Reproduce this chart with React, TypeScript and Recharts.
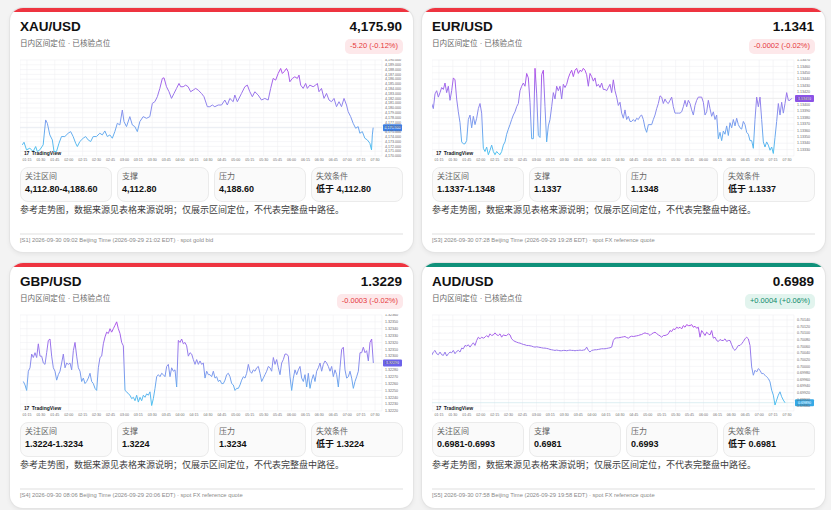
import { LineChart, Line, XAxis, YAxis, CartesianGrid, ReferenceLine } from 'recharts'

const FONT = '"Liberation Sans", Arial, "Noto Sans CJK SC", sans-serif'

// intraday session clock labels (x axis)
const sessionLabels = [
  '01:15', '01:30', '01:45', '02:00', '02:15', '02:30', '02:45', '03:00', '03:15', '03:30',
  '03:45', '04:00', '04:15', '04:30', '04:45', '05:00', '05:15', '05:30', '05:45', '06:00',
  '06:15', '06:30', '06:45', '07:00', '07:15', '07:30',
]

// XAU/USD: minutes from chart start, spot price
const xauMinutes = [
  0, 2, 5, 9, 13, 16, 18, 21, 25, 28,
  30, 33, 36, 38, 41, 44, 47, 51, 55, 58,
  61, 64, 66, 69, 73, 76, 79, 82, 85, 89,
  93, 96, 99, 102, 105, 108, 111, 114, 117, 120,
  122, 125, 129, 132, 135, 138, 141, 145, 149, 153,
  156, 159, 162, 165, 168, 170, 173, 176, 179, 182,
  185, 188, 190, 193, 196, 199, 202, 205, 208, 211,
  215, 218, 222, 225, 228, 231, 235, 239, 243, 246,
  249, 253, 255, 258, 263, 267, 270, 273, 276, 279,
  283, 287, 291, 295, 298, 301, 304, 307, 310, 312,
  314, 317, 319, 321, 324, 327, 330, 332, 334, 337,
  340, 342, 345, 349, 352, 354, 356, 359, 362, 365,
  368, 371, 374, 377, 380, 383, 386, 389, 391, 394,
  397, 400, 403, 405, 408, 411, 414, 417, 419, 420,
  421,
]
const xauPrices = [
  4172.32, 4172.87, 4171.28, 4171.62, 4170.93, 4171.97, 4170.93, 4171.28, 4172.32, 4177.51,
  4176.81, 4174.39, 4173.35, 4170.93, 4170.93, 4172.66, 4174.05, 4174.05, 4174.74, 4175.08,
  4174.05, 4172.66, 4171.97, 4173.01, 4173.7, 4174.05, 4173.35, 4173.01, 4174.05, 4174.05,
  4174.74, 4174.39, 4175.22, 4174.05, 4174.39, 4173.7, 4175.08, 4176.81, 4176.47, 4179.58,
  4177.16, 4176.12, 4178.2, 4176.47, 4176.12, 4175.08, 4177.16, 4178.2, 4177.85, 4178.2,
  4180.97, 4181.31, 4182.35, 4184.08, 4186.16, 4186.29, 4184.43, 4183.39, 4182.0, 4183.04,
  4184.08, 4185.12, 4184.43, 4184.43, 4184.77, 4184.43, 4183.39, 4183.73, 4184.08, 4183.73,
  4183.04, 4182.35, 4180.27, 4180.27, 4180.62, 4180.27, 4180.62, 4180.62, 4181.66, 4180.62,
  4182.0, 4181.31, 4182.7, 4181.31, 4183.04, 4184.43, 4184.77, 4183.39, 4182.35, 4183.39,
  4182.7, 4181.66, 4182.0, 4181.66, 4184.08, 4186.16, 4185.81, 4187.19, 4188.23, 4187.19,
  4187.54, 4188.23, 4187.54, 4185.46, 4186.16, 4186.5, 4186.16, 4186.85, 4184.77, 4184.08,
  4185.12, 4184.08, 4184.77, 4184.43, 4184.77, 4185.12, 4183.39, 4184.08, 4182.0, 4183.04,
  4181.66, 4181.31, 4182.0, 4180.27, 4181.31, 4180.27, 4182.0, 4180.62, 4179.24, 4178.2,
  4176.81, 4175.78, 4176.12, 4174.74, 4175.08, 4173.7, 4173.35, 4172.66, 4171.28, 4174.39,
  4175.9,
]

// EUR/USD, one reading per bar
const eurPrices = [
  1.13402, 1.13394, 1.13417, 1.13422, 1.13412, 1.13419, 1.13427, 1.13424, 1.13434, 1.13419,
  1.13429, 1.13407, 1.13422, 1.13442, 1.13439, 1.13409, 1.13389, 1.13372, 1.13342, 1.13339,
  1.13339, 1.13344, 1.13377, 1.13384, 1.13364, 1.13382, 1.13369, 1.13379, 1.13394, 1.13402,
  1.13387, 1.13332, 1.13327, 1.13334, 1.13322, 1.13329, 1.13337, 1.13327, 1.13322, 1.13327,
  1.13324, 1.13322, 1.13327, 1.13337, 1.13342, 1.13354, 1.13362, 1.13369, 1.13377, 1.13384,
  1.13389, 1.13397, 1.13402, 1.13422, 1.13429, 1.13434, 1.13429, 1.13449, 1.13442, 1.13404,
  1.13347, 1.13347, 1.13457, 1.13417, 1.13352, 1.13349, 1.13447, 1.13454, 1.13397, 1.13342,
  1.13367, 1.13377, 1.13397, 1.13419, 1.13409, 1.13429, 1.13422, 1.13429, 1.13409, 1.13432,
  1.13427, 1.13432, 1.13442, 1.13449, 1.13454, 1.13444, 1.13454, 1.13457, 1.13449, 1.13454,
  1.13452, 1.13457, 1.13454, 1.13447, 1.13429, 1.13449, 1.13444, 1.13437, 1.13442, 1.13429,
  1.13432, 1.13427, 1.13434, 1.13424, 1.13424, 1.13422, 1.13427, 1.13432, 1.13419, 1.13439,
  1.13422, 1.13412, 1.13399, 1.13404, 1.13387, 1.13379, 1.13392, 1.13377, 1.13382, 1.13374,
  1.13374, 1.13377, 1.13374, 1.13379, 1.13377, 1.13382, 1.13384, 1.13377, 1.13364, 1.13357,
  1.13369, 1.13369, 1.13369, 1.13377, 1.13384, 1.13394, 1.13402, 1.13414, 1.13412, 1.13402,
  1.13409, 1.13404, 1.13402, 1.13407, 1.13412, 1.13397, 1.13387, 1.13387, 1.13387, 1.13387,
  1.13389, 1.13397, 1.13407, 1.13397, 1.13407, 1.13402, 1.13392, 1.13384, 1.13399, 1.13407,
  1.13412, 1.13412, 1.13412, 1.13404, 1.13384, 1.13389, 1.13407, 1.13394, 1.13382, 1.13389,
  1.13377, 1.13384, 1.13347, 1.13357, 1.13344, 1.13359, 1.13354, 1.13367, 1.13352, 1.13372,
  1.13364, 1.13377, 1.13367, 1.13379, 1.13369, 1.13364, 1.13362, 1.13374, 1.13369, 1.13357,
  1.13354, 1.13344, 1.13344, 1.13332, 1.13377, 1.13412, 1.13397, 1.13412, 1.13377, 1.13342,
  1.13334, 1.13342, 1.13337, 1.13329, 1.13334, 1.13324, 1.13349, 1.13374, 1.13402, 1.13384,
  1.13404, 1.13387, 1.13402, 1.13419, 1.13407, 1.13407, 1.1341,
]

// GBP/USD
const gbpPrices = [
  1.32263, 1.32258, 1.3225, 1.32278, 1.32283, 1.32303, 1.32298, 1.32305, 1.32298, 1.32318,
  1.323, 1.323, 1.3229, 1.32288, 1.32305, 1.32323, 1.32325, 1.323, 1.32283, 1.32278,
  1.32265, 1.32273, 1.32278, 1.3229, 1.32303, 1.32283, 1.3229, 1.32288, 1.3229, 1.3228,
  1.32308, 1.3232, 1.323, 1.32283, 1.32278, 1.32263, 1.32268, 1.3226, 1.32263, 1.32268,
  1.32275, 1.32263, 1.3226, 1.32253, 1.3225, 1.32283, 1.32298, 1.323, 1.32318, 1.32328,
  1.32335, 1.32333, 1.3234, 1.32335, 1.3234, 1.32345, 1.3235, 1.3234, 1.32333, 1.3232,
  1.32315, 1.3225, 1.32248, 1.32245, 1.32243, 1.32238, 1.3224, 1.32235, 1.32243, 1.32233,
  1.3224, 1.32235, 1.32243, 1.3224, 1.32245, 1.32243, 1.32248, 1.32228, 1.32238, 1.32253,
  1.3227, 1.32273, 1.3227, 1.32275, 1.32273, 1.3227, 1.32285, 1.32288, 1.3227, 1.32283,
  1.32278, 1.3228, 1.32255, 1.32323, 1.3232, 1.32325, 1.32318, 1.3232, 1.32315, 1.323,
  1.32305, 1.32303, 1.32295, 1.32288, 1.32295, 1.32288, 1.32293, 1.32288, 1.3229, 1.32268,
  1.32278, 1.32273, 1.32273, 1.3227, 1.32278, 1.32268, 1.3227, 1.32263, 1.32265, 1.3226,
  1.3226, 1.32265, 1.32273, 1.32275, 1.3227, 1.3226, 1.32258, 1.3225, 1.32253, 1.32253,
  1.32258, 1.32265, 1.3227, 1.32268, 1.32275, 1.32288, 1.32278, 1.32275, 1.3228, 1.32278,
  1.32283, 1.32285, 1.32275, 1.32263, 1.32268, 1.32273, 1.32278, 1.32285, 1.32283, 1.32278,
  1.32298, 1.32288, 1.32295, 1.32283, 1.32273, 1.3229, 1.32295, 1.32303, 1.32303, 1.323,
  1.3227, 1.3225, 1.32268, 1.3228, 1.32273, 1.3228, 1.32285, 1.32268, 1.32263, 1.32273,
  1.32255, 1.32275, 1.32253, 1.32265, 1.32273, 1.32263, 1.32278, 1.32283, 1.3229, 1.32278,
  1.32288, 1.32293, 1.3229, 1.32285, 1.32278, 1.32285, 1.3227, 1.3228, 1.32273, 1.32255,
  1.32283, 1.3231, 1.32313, 1.3228, 1.32268, 1.3227, 1.32278, 1.32268, 1.32253, 1.32263,
  1.3227, 1.32278, 1.32305, 1.32305, 1.32313, 1.32305, 1.32308, 1.32293, 1.3232, 1.32325,
  1.3229,
]

// AUD/USD
const audPrices = [
  0.70033, 0.70043, 0.70048, 0.70038, 0.70035, 0.70043, 0.70035, 0.70033, 0.70043, 0.70031,
  0.70038, 0.70043, 0.70041, 0.70048, 0.70038, 0.70045, 0.70048, 0.70043, 0.70055, 0.70053,
  0.70063, 0.70061, 0.70065, 0.70058, 0.70065, 0.70071, 0.70063, 0.70078, 0.70088, 0.70083,
  0.70088, 0.70085, 0.70088, 0.70093, 0.70088, 0.70098, 0.70093, 0.70095, 0.70101, 0.70095,
  0.70093, 0.70098, 0.70088, 0.70095, 0.70093, 0.70093, 0.70098, 0.70095, 0.70083, 0.70078,
  0.70075, 0.70073, 0.70071, 0.7007, 0.70068, 0.70066, 0.70065, 0.70063, 0.70063, 0.70062,
  0.70061, 0.70059, 0.70058, 0.70059, 0.70058, 0.70057, 0.70056, 0.70055, 0.70055, 0.70054,
  0.70053, 0.70051, 0.7005, 0.70049, 0.70048, 0.70049, 0.70048, 0.70047, 0.70047, 0.70048,
  0.70048, 0.70047, 0.70048, 0.70049, 0.70048, 0.70048, 0.70047, 0.70048, 0.70048, 0.70049,
  0.70048, 0.70049, 0.7005, 0.70058, 0.70048, 0.70043, 0.70048, 0.70049, 0.7005, 0.7005,
  0.70051, 0.70052, 0.70053, 0.70053, 0.70053, 0.70054, 0.70055, 0.70056, 0.70058, 0.70078,
  0.70085, 0.70086, 0.70086, 0.70087, 0.70088, 0.70089, 0.7009, 0.70087, 0.70085, 0.70089,
  0.70091, 0.7009, 0.70091, 0.70092, 0.70093, 0.70095, 0.70096, 0.70099, 0.70101, 0.70099,
  0.70098, 0.70093, 0.70098, 0.70101, 0.70103, 0.70099, 0.70095, 0.70092, 0.70088, 0.70093,
  0.70093, 0.70095, 0.70098, 0.70108, 0.70105, 0.70113, 0.70111, 0.70118, 0.70115, 0.70118,
  0.70113, 0.70123, 0.70118, 0.70126, 0.70123, 0.70123, 0.70126, 0.70118, 0.70121, 0.70115,
  0.70118, 0.70088, 0.70108, 0.70101, 0.70093, 0.70103, 0.70098, 0.70095, 0.70108, 0.70085,
  0.70088, 0.70078, 0.70075, 0.70081, 0.70078, 0.70078, 0.70083, 0.70075, 0.70078, 0.70078,
  0.70065, 0.70053, 0.70048, 0.70055, 0.70063, 0.70063, 0.70068, 0.70075, 0.70083, 0.70088,
  0.70083, 0.70063, 0.69998, 0.69973, 0.69988, 0.69983, 0.69993, 0.69988, 0.69978, 0.69978,
  0.69973, 0.69968, 0.69963, 0.69953, 0.69928, 0.69913, 0.69883, 0.69898, 0.69913, 0.69923,
  0.69908, 0.69898, 0.6989,
]

// price scale ticks
const xauTicks = [4170, 4171, 4172, 4173, 4174, 4175, 4176, 4177, 4178, 4179, 4180, 4181, 4182, 4183, 4184, 4185, 4186, 4187, 4188, 4189, 4190]
const eurTicks = [1.1333, 1.1334, 1.1335, 1.1336, 1.1337, 1.1338, 1.1339, 1.134, 1.1341, 1.1342, 1.1343, 1.1344, 1.1345, 1.1346, 1.1347]
const gbpTicks = [1.3222, 1.3223, 1.3224, 1.3225, 1.3226, 1.3227, 1.3228, 1.3229, 1.323, 1.3231, 1.3232, 1.3233, 1.3234, 1.3235, 1.3236]
const audTicks = [0.6988, 0.699, 0.6992, 0.6994, 0.6996, 0.6998, 0.7, 0.7002, 0.7004, 0.7006, 0.7008, 0.701, 0.7012, 0.7014]

const statLabels = ['关注区间', '支撑', '压力', '失效条件']
const note = '参考走势图，数据来源见表格来源说明；仅展示区间定位，不代表完整盘中路径。'

const xauData = xauMinutes.map((x, k) => ({ x, v: xauPrices[k] }))
const eurData = eurPrices.map((v, x) => ({ x, v }))
const gbpData = gbpPrices.map((v, x) => ({ x, v }))
const audData = audPrices.map((v, x) => ({ x, v }))

const fmtGold = (v: number) =>
  v.toLocaleString('en-US', { minimumFractionDigits: 3, maximumFractionDigits: 3 })
const fmtFx = (v: number) => v.toFixed(5)

const PriceTag = (props: any) => {
  const { viewBox, color, text } = props
  if (!viewBox) return null
  const x = viewBox.x + viewBox.width + 1
  const y = viewBox.y
  return (
    <g>
      <rect x={x} y={y - 3.5} width={19} height={7} rx={1} fill={color} />
      <text x={x + 9.5} y={y + 1.3} fontSize={3.6} fill='#fff' textAnchor='middle'>
        {text}
      </text>
    </g>
  )
}

function PriceChart({ id, data, xDomain, yDomain, yTicks, fmt, last, tagColor, refColor }: any) {
  const span = xDomain[1] - xDomain[0]
  const xTicks = sessionLabels.map((_, k) => xDomain[0] + ((k + 0.5) * span) / sessionLabels.length)
  return (
    <div style={{ position: 'absolute', left: 10, top: 51, width: 383, height: 106 }}>
      <LineChart width={383} height={106} data={data} margin={{ top: 1, right: 0, bottom: 0, left: 0 }}>
        <defs>
          <linearGradient id={`stroke-${id}`} x1='0' y1='0' x2='0' y2='1'>
            <stop offset='0%' stopColor='#b050e8' />
            <stop offset='50%' stopColor='#8a8cec' />
            <stop offset='100%' stopColor='#4cc3ef' />
          </linearGradient>
        </defs>
        <CartesianGrid stroke='#f0f0f3' strokeWidth={0.6} />
        <XAxis
          type='number'
          dataKey='x'
          domain={xDomain}
          allowDataOverflow
          ticks={xTicks}
          interval={0}
          tickFormatter={(_v: number, k: number) => sessionLabels[k]}
          height={9}
          tick={{ fontSize: 3.6, fill: '#6f6f6f' }}
          tickLine={false}
          axisLine={false}
          tickSize={0}
          tickMargin={2}
        />
        <YAxis
          orientation='right'
          domain={yDomain}
          allowDataOverflow
          ticks={yTicks}
          interval={0}
          width={21}
          tickFormatter={fmt}
          tick={{ fontSize: 3.6, fill: '#666' }}
          tickLine={false}
          axisLine={false}
          tickSize={0}
          tickMargin={3}
        />
        <ReferenceLine
          y={last}
          stroke={refColor}
          strokeWidth={0.7}
          label={<PriceTag color={tagColor} text={fmt(last)} />}
        />
        <Line
          type='linear'
          dataKey='v'
          stroke={`url(#stroke-${id})`}
          strokeWidth={1}
          dot={false}
          isAnimationActive={false}
        />
      </LineChart>
      <div
        style={{
          position: 'absolute',
          left: 4,
          top: 92,
          fontSize: 5,
          lineHeight: '5px',
          fontWeight: 700,
          color: '#131722',
          whiteSpace: 'nowrap',
        }}
      >
        <span style={{ letterSpacing: -0.4, marginRight: 3 }}>17</span>TradingView
      </div>
    </div>
  )
}

function Card({ left, top, height, accent, pair, price, change, up, stats, source, children }: any) {
  return (
    <div
      style={{
        position: 'absolute',
        left,
        top,
        width: 403,
        height,
        background: '#fff',
        borderRadius: 13,
        boxShadow: '0 0 0 1px #e4e4e4, 0 2px 5px rgba(0,0,0,0.07)',
        overflow: 'hidden',
      }}
    >
      <div style={{ position: 'absolute', left: 0, top: 0, right: 0, height: 3.5, background: accent }} />
      <div style={{ position: 'absolute', left: 10, top: 12, fontSize: 13.5, lineHeight: '14px', fontWeight: 700, color: '#111' }}>
        {pair}
      </div>
      <div style={{ position: 'absolute', right: 11, top: 12, fontSize: 13.5, lineHeight: '14px', fontWeight: 700, color: '#111' }}>
        {price}
      </div>
      <div style={{ position: 'absolute', left: 10, top: 32, fontSize: 7.6, lineHeight: '8px', color: '#666' }}>
        日内区间定位 · 已核验点位
      </div>
      <div
        style={{
          position: 'absolute',
          right: 10,
          top: 31,
          height: 14.5,
          lineHeight: '14.5px',
          padding: '0 5px',
          borderRadius: 5,
          fontSize: 7.5,
          background: up ? '#e2f4ee' : '#fde8ea',
          color: up ? '#0e8a6a' : '#e5383b',
        }}
      >
        {change}
      </div>
      {children}
      <div style={{ position: 'absolute', left: 10, top: 159, width: 383, height: 35, display: 'flex', gap: 5 }}>
        {stats.map((s: string, k: number) => (
          <div
            key={k}
            style={{
              position: 'relative',
              flex: 1,
              background: '#fafafa',
              border: '1px solid #ebebeb',
              borderRadius: 8,
              boxSizing: 'border-box',
            }}
          >
            <div style={{ position: 'absolute', left: 4, top: 3.5, fontSize: 8, lineHeight: '10px', color: '#666' }}>
              {statLabels[k]}
            </div>
            <div style={{ position: 'absolute', left: 4, top: 15.5, fontSize: 9, lineHeight: '11px', fontWeight: 700, color: '#111', whiteSpace: 'nowrap' }}>
              {s}
            </div>
          </div>
        ))}
      </div>
      <div style={{ position: 'absolute', left: 10, top: 197, fontSize: 9, lineHeight: '10px', color: '#3d3d3d', whiteSpace: 'nowrap' }}>
        {note}
      </div>
      <div style={{ position: 'absolute', left: 10, right: 10, top: 225, height: 1.5, background: '#efefef' }} />
      <div style={{ position: 'absolute', left: 10, top: 229, fontSize: 5.8, lineHeight: '7px', color: '#8a8a8a', whiteSpace: 'nowrap' }}>
        {source}
      </div>
    </div>
  )
}

export default function App() {
  return (
    <div style={{ position: 'relative', width: 831, height: 510, background: '#f3f3f3', fontFamily: FONT, overflow: 'hidden' }}>
      <style>{'body{margin:0}'}</style>
      <Card
        left={10}
        top={8}
        height={244}
        accent='#ee3440'
        pair='XAU/USD'
        price='4,175.90'
        change='-5.20 (-0.12%)'
        up={false}
        stats={['4,112.80-4,188.60', '4,112.80', '4,188.60', '低于 4,112.80']}
        source='[S1] 2026-09-30 09:02 Beijing Time (2026-09-29 21:02 EDT) · spot gold bid'
      >
        <PriceChart
          id='xau'
          data={xauData}
          xDomain={[-2.8, 431.6]}
          yDomain={[4170, 4190]}
          yTicks={xauTicks}
          fmt={fmtGold}
          last={4175.9}
          tagColor='#3d7fe6'
          refColor='#e4e8ef'
        />
      </Card>
      <Card
        left={422}
        top={8}
        height={244}
        accent='#ee3440'
        pair='EUR/USD'
        price='1.1341'
        change='-0.0002 (-0.02%)'
        up={false}
        stats={['1.1337-1.1348', '1.1337', '1.1348', '低于 1.1337']}
        source='[S3] 2026-09-30 07:28 Beijing Time (2026-09-29 19:28 EDT) · spot FX reference quote'
      >
        <PriceChart
          id='eur'
          data={eurData}
          xDomain={[0.2, 217.4]}
          yDomain={[1.1332, 1.1347]}
          yTicks={eurTicks}
          fmt={fmtFx}
          last={1.1341}
          tagColor='#8b52e6'
          refColor='#ebebeb'
        />
      </Card>
      <Card
        left={10}
        top={263}
        height={245}
        accent='#ee3440'
        pair='GBP/USD'
        price='1.3229'
        change='-0.0003 (-0.02%)'
        up={false}
        stats={['1.3224-1.3234', '1.3224', '1.3234', '低于 1.3224']}
        source='[S4] 2026-09-30 08:06 Beijing Time (2026-09-29 20:06 EDT) · spot FX reference quote'
      >
        <PriceChart
          id='gbp'
          data={gbpData}
          xDomain={[-2, 215.2]}
          yDomain={[1.3222, 1.3236]}
          yTicks={gbpTicks}
          fmt={fmtFx}
          last={1.3229}
          tagColor='#6c62ea'
          refColor='#ebebeb'
        />
      </Card>
      <Card
        left={422}
        top={263}
        height={245}
        accent='#0f917a'
        pair='AUD/USD'
        price='0.6989'
        change='+0.0004 (+0.06%)'
        up
        stats={['0.6981-0.6993', '0.6981', '0.6993', '低于 0.6981']}
        source='[S5] 2026-09-30 07:58 Beijing Time (2026-09-29 19:58 EDT) · spot FX reference quote'
      >
        <PriceChart
          id='aud'
          data={audData}
          xDomain={[0.2, 217.4]}
          yDomain={[0.69865, 0.70155]}
          yTicks={audTicks}
          fmt={fmtFx}
          last={0.6989}
          tagColor='#35a9e6'
          refColor='#cfe8ee'
        />
      </Card>
    </div>
  )
}
